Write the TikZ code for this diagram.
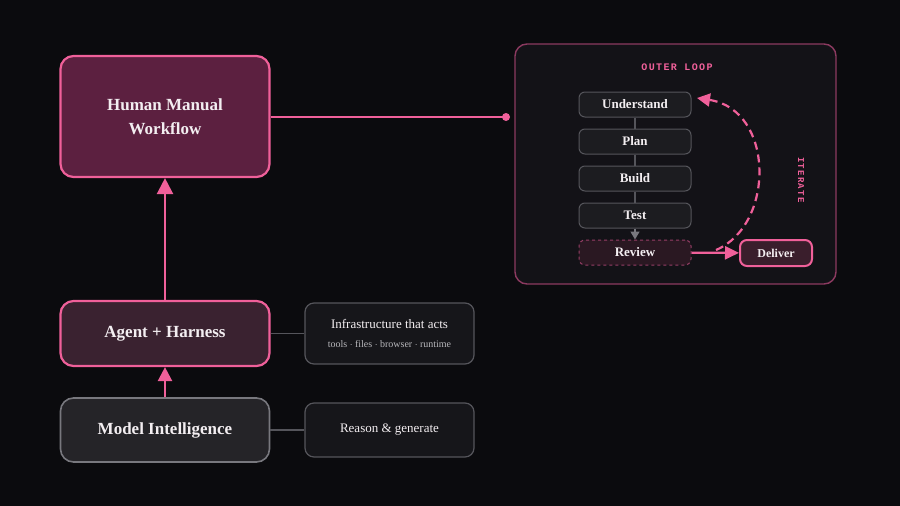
\documentclass[tikz,border=0pt]{standalone}
\usepackage{fontspec}
\setmainfont{Liberation Serif}
\newfontfamily\loopfont[LetterSpace=14]{Liberation Mono}
\usetikzlibrary{arrows.meta}
\definecolor{bgdark}{HTML}{0B0B0E}
\definecolor{hotpink}{HTML}{F0609A}
\definecolor{duskpink}{HTML}{8C3A60}
\definecolor{wineFill}{HTML}{5C2040}
\definecolor{plumFill}{HTML}{3A2230}
\definecolor{slateFill}{HTML}{252428}
\definecolor{noteFill}{HTML}{16161A}
\definecolor{loopFill}{HTML}{131217}
\definecolor{stageFill}{HTML}{1C1C20}
\definecolor{reviewFill}{HTML}{2A1822}
\definecolor{deliverFill}{HTML}{3A1E2C}
\definecolor{greyline}{HTML}{55555B}
\definecolor{greyedge}{HTML}{78787E}
\definecolor{txtwhite}{HTML}{F3EEF1}
\definecolor{txtgrey}{HTML}{B8B8BC}

\begin{document}
\begin{tikzpicture}[x=1pt,y=-1pt,
  layer/.style={draw,rounded corners=13pt,line width=2.2pt,align=center,
    text=txtwhite,inner sep=0pt,minimum width=209pt,
    font=\fontsize{17}{24}\selectfont\bfseries},
  note/.style={draw=greyline,fill=noteFill,rounded corners=9pt,line width=1.2pt,
    align=center,text=txtwhite,inner sep=0pt,minimum width=169pt},
  stage/.style={draw=greyline,fill=stageFill,rounded corners=6pt,line width=1pt,
    text=txtwhite,inner sep=0pt,minimum width=112pt,minimum height=25pt,
    font=\fontsize{13}{15}\selectfont\bfseries},
  pinkarrow/.style={draw=hotpink,line width=2.4pt,-{Triangle[length=16pt,width=16pt]}},
  greylink/.style={draw=greyline,line width=1.4pt}]

\useasboundingbox (0,0) rectangle (900,506);
\fill[bgdark] (0,0) rectangle (900,506);

% left stack
\node[layer,fill=wineFill,draw=hotpink,minimum height=121pt] (human) at (165,116.5)
     {Human Manual\\Workflow};
\node[layer,fill=plumFill,draw=hotpink,minimum height=65pt] (agent) at (165,333.5)
     {Agent + Harness};
\node[layer,fill=slateFill,draw=greyedge,line width=1.6pt,minimum height=64pt] (model) at (165,430)
     {Model Intelligence};

% side notes
\node[note,minimum height=61pt] (infra) at (389.5,333.5)
     {{\fontsize{13}{15}\selectfont Infrastructure that acts}\\[7pt]
      {\fontsize{10}{12}\selectfont\color{txtgrey}tools $\cdot$ files $\cdot$ browser $\cdot$ runtime}};
\node[note,minimum height=54pt,font=\fontsize{13}{15}\selectfont] (reason) at (389.5,430)
     {Reason \& generate};

% outer loop panel
\node[draw=duskpink,fill=loopFill,rounded corners=12pt,line width=1.4pt,inner sep=0pt,
      minimum width=321pt,minimum height=240pt] (loop) at (675.5,164) {};
\node[text=hotpink,font=\loopfont\fontsize{10}{12}\selectfont\bfseries] (looptitle) at (677,67) {OUTER LOOP};
\node[text=hotpink,rotate=-90,font=\loopfont\fontsize{9}{10}\selectfont\bfseries] (iterlabel) at (801,180) {ITERATE};

\node[stage] (understand) at (635,104.5) {Understand};
\node[stage] (plan) at (635,141.5) {Plan};
\node[stage] (build) at (635,178.5) {Build};
\node[stage] (test) at (635,215.5) {Test};
\node[stage,draw=duskpink!90!hotpink,fill=reviewFill,dashed] (review) at (635,252.5) {Review};
\node[stage,draw=hotpink,fill=deliverFill,line width=2pt,rounded corners=7pt,
      minimum width=72pt,minimum height=26pt,font=\fontsize{12}{14}\selectfont\bfseries]
     (deliver) at (776,253) {Deliver};

\coordinate (loopjoint) at (506,117);
\coordinate (iterstart) at (716,250);
\coordinate (iterend) at (697,98);

% connectors
\draw[draw=hotpink,line width=2pt] (human.east |- loopjoint) -- (loopjoint);
\fill[hotpink] (loopjoint) circle (4pt);
\draw[pinkarrow] (agent) -- (human);
\draw[pinkarrow,-{Triangle[length=14pt,width=14pt]}] (model) -- (agent);
\draw[greylink] (agent) -- (infra);
\draw[greylink] (model) -- (reason);

\draw[greylink] (understand) -- (plan);
\draw[greylink] (plan) -- (build);
\draw[greylink] (build) -- (test);
\draw[greylink,draw=greyedge,-{Triangle[length=8pt,width=9pt]}] (test) -- (review);
\draw[draw=hotpink,line width=2.2pt,-{Triangle[length=14pt,width=13pt]}] (review) -- (deliver);
\draw[draw=hotpink,line width=2.2pt,dash pattern=on 8pt off 5pt,-{Triangle[length=13pt,width=13pt]}]
     (iterstart) .. controls (775,225) and (775,110) .. (iterend);
\end{tikzpicture}
\end{document}
